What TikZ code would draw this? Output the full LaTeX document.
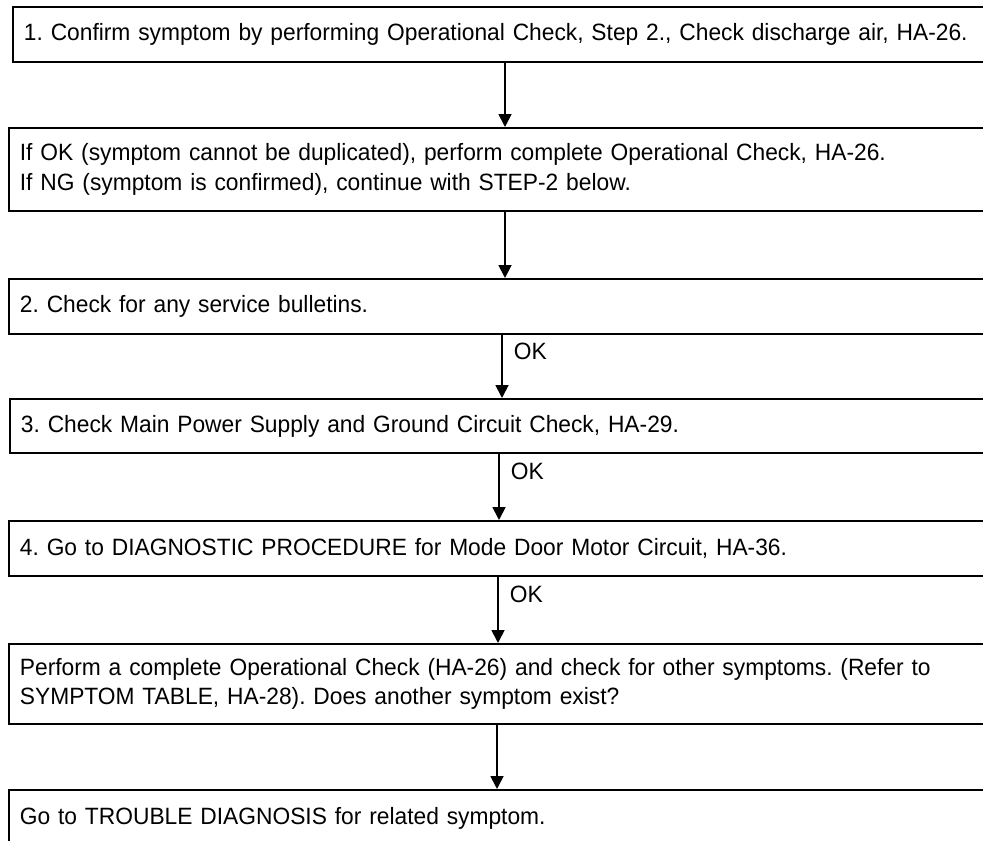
\documentclass[tikz,border=0pt]{standalone}
\usepackage{fontspec}
\setmainfont{Liberation Sans}[FakeStretch=0.965]
\usetikzlibrary{arrows.meta}

\begin{document}
\frenchspacing
\begin{tikzpicture}[
  x=1pt, y=-1pt,
  stepbox/.style={rectangle, draw=black, line width=1.8pt, anchor=north west, inner xsep=11pt, inner ysep=0pt, text width=978pt, align=left, font=\fontsize{23.6pt}{29.5pt}\selectfont},
  flow/.style={-{Triangle[length=13pt, width=13pt]}, line width=1.8pt},
  oklbl/.style={anchor=west, inner sep=0pt, xshift=11pt, font=\fontsize{23.6pt}{28pt}\selectfont}
]
\clip (0,0) rectangle (983,841);
\fill[white] (0,0) rectangle (983,841);

\node[stepbox, minimum height=55pt] (confirm) at (12,6) {1. Confirm symptom by performing Operational Check, Step 2., Check discharge air, HA-26.};
\node[stepbox, minimum height=83pt] (recheck) at (8,127) {If OK (symptom cannot be duplicated), perform complete Operational Check, HA-26.\\If NG (symptom is confirmed), continue with STEP-2 below.};
\node[stepbox, minimum height=55pt] (bulletin) at (8,278) {2. Check for any service bulletins.};
\node[stepbox, minimum height=54pt] (power) at (9,398) {3. Check Main Power Supply and Ground Circuit Check, HA-29.};
\node[stepbox, minimum height=55pt] (modedoor) at (8,520) {4. Go to DIAGNOSTIC PROCEDURE for Mode Door Motor Circuit, HA-36.};
\node[stepbox, minimum height=80pt] (opcheck) at (8,643) {Perform a complete Operational Check (HA-26) and check for other symptoms. (Refer to\\SYMPTOM TABLE, HA-28). Does another symptom exist?};
\node[stepbox, minimum height=60pt, text depth=8pt] (trouble) at (8,789) {Go to TROUBLE DIAGNOSIS for related symptom.};

\foreach \a/\b/\x in {confirm/recheck/505, recheck/bulletin/505, opcheck/trouble/497}{
  \coordinate (ax) at (\x,0);
  \draw[flow] (\a.south -| ax) -- (\b.north -| ax);
}
\foreach \a/\b/\x in {bulletin/power/502, power/modedoor/499, modedoor/opcheck/498}{
  \coordinate (ax) at (\x,0);
  \draw[flow] (\a.south -| ax) -- node[oklbl, pos=0.27] {OK} (\b.north -| ax);
}
\end{tikzpicture}
\end{document}
